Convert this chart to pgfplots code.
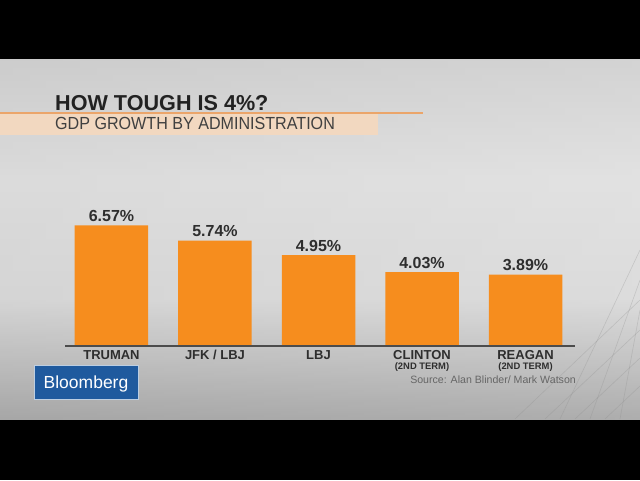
\documentclass[border=0pt]{standalone}
\usepackage{pgfplots}
\pgfplotsset{compat=1.18}
\usepackage{fontspec}
\setmainfont{Liberation Sans}
\newfontfamily\condfont{Liberation Sans}[FakeStretch=0.92]
\definecolor{bbOrange}{HTML}{F68D1E}
\definecolor{bbBlue}{HTML}{1F5A9E}
\definecolor{peach}{HTML}{F2D8C0}
\definecolor{lineOrange}{HTML}{EBA56A}
\definecolor{txtDark}{HTML}{222222}
\begin{document}
\begin{tikzpicture}[x=1pt,y=1pt]
\path[use as bounding box] (0,0) rectangle (640,480);
\fill[black] (0,0) rectangle (640,480);
% background (imgY = 480 - y)
\shade[top color=black!12, bottom color=black!5] (0,300) rectangle (640,420);
\shade[top color=black!5, bottom color=black!8] (0,180) rectangle (640,300.5);
\shade[top color=black!8, bottom color=black!30] (0,61) rectangle (640,180.5);
\shade[left color=black!55, middle color=white, right color=black!40, fill opacity=0.18] (0,61) rectangle (640,420);
% faint building grid, lower right
\begin{scope}[draw=black!45, line width=0.6pt, opacity=0.3]
\draw (545,61) -- (640,150);
\draw (575,61) -- (640,122);
\draw (605,61) -- (640,94);
\draw (515,61) -- (640,180);
\draw (560,61) -- (640,230);
\draw (590,61) -- (640,200);
\draw (620,61) -- (640,170);
\end{scope}
% title block
\fill[peach] (0,345) rectangle (378,367);
\draw[lineOrange, line width=2pt] (0,367) -- (423,367);
\node[anchor=base west, inner sep=0, text=txtDark, font=\bfseries\fontsize{21.6}{21.6}\selectfont] at (55,369.5) {HOW TOUGH IS 4\%?};
\node[anchor=base west, inner sep=0, text=black!75, font=\condfont\fontsize{17.5}{17.5}\selectfont] at (55,350) {GDP GROWTH BY ADMINISTRATION};
% logo and source
\fill[white!70!bbBlue] (33.5,80.5) rectangle (138.5,115.5);
\fill[bbBlue] (34.5,81.5) rectangle (137.5,114.5);
\node[anchor=base, inner sep=0, text=white, font=\fontsize{17.5}{17.5}\selectfont] at (86,92) {Bloomberg};
\node[anchor=base east, inner sep=0, text=black!60, font=\fontsize{10.6}{10.6}\selectfont] at (576,97) {Source: Alan Blinder/ Mark Watson};
\begin{axis}[
  at={(65pt,134pt)}, anchor=south west,
  scale only axis, width=510pt, height=146.8pt,
  xmin=-0.449, xmax=4.478, ymin=0, ymax=8,
  ybar, bar width=73.5pt, bar shift=0pt,
  axis x line=bottom, axis y line=none,
  axis line style={-, draw=black!70, line width=1.3pt},
  axis on top, clip=false,
  xtick=data, ytick=\empty,
  major tick length=0pt,
  xticklabels={TRUMAN, JFK / LBJ, LBJ, {CLINTON\\{\fontsize{9.4}{9.4}\selectfont (2ND TERM)}}, {REAGAN\\{\fontsize{9.4}{9.4}\selectfont (2ND TERM)}}},
  xticklabel style={font=\bfseries\fontsize{13}{10}\selectfont, text=black!82, align=center, inner sep=0pt, yshift=-4pt},
  point meta=explicit symbolic,
  nodes near coords={\pgfplotspointmeta\%},
  nodes near coords style={font=\bfseries\fontsize{16}{16}\selectfont, text=black!82, inner sep=0pt, yshift=3.5pt},
]
\addplot[fill=bbOrange, draw=none] coordinates {(0,6.57) [6.57] (1,5.74) [5.74] (2,4.95) [4.95] (3,4.03) [4.03] (4,3.89) [3.89]};
\end{axis}
\end{tikzpicture}
\end{document}
